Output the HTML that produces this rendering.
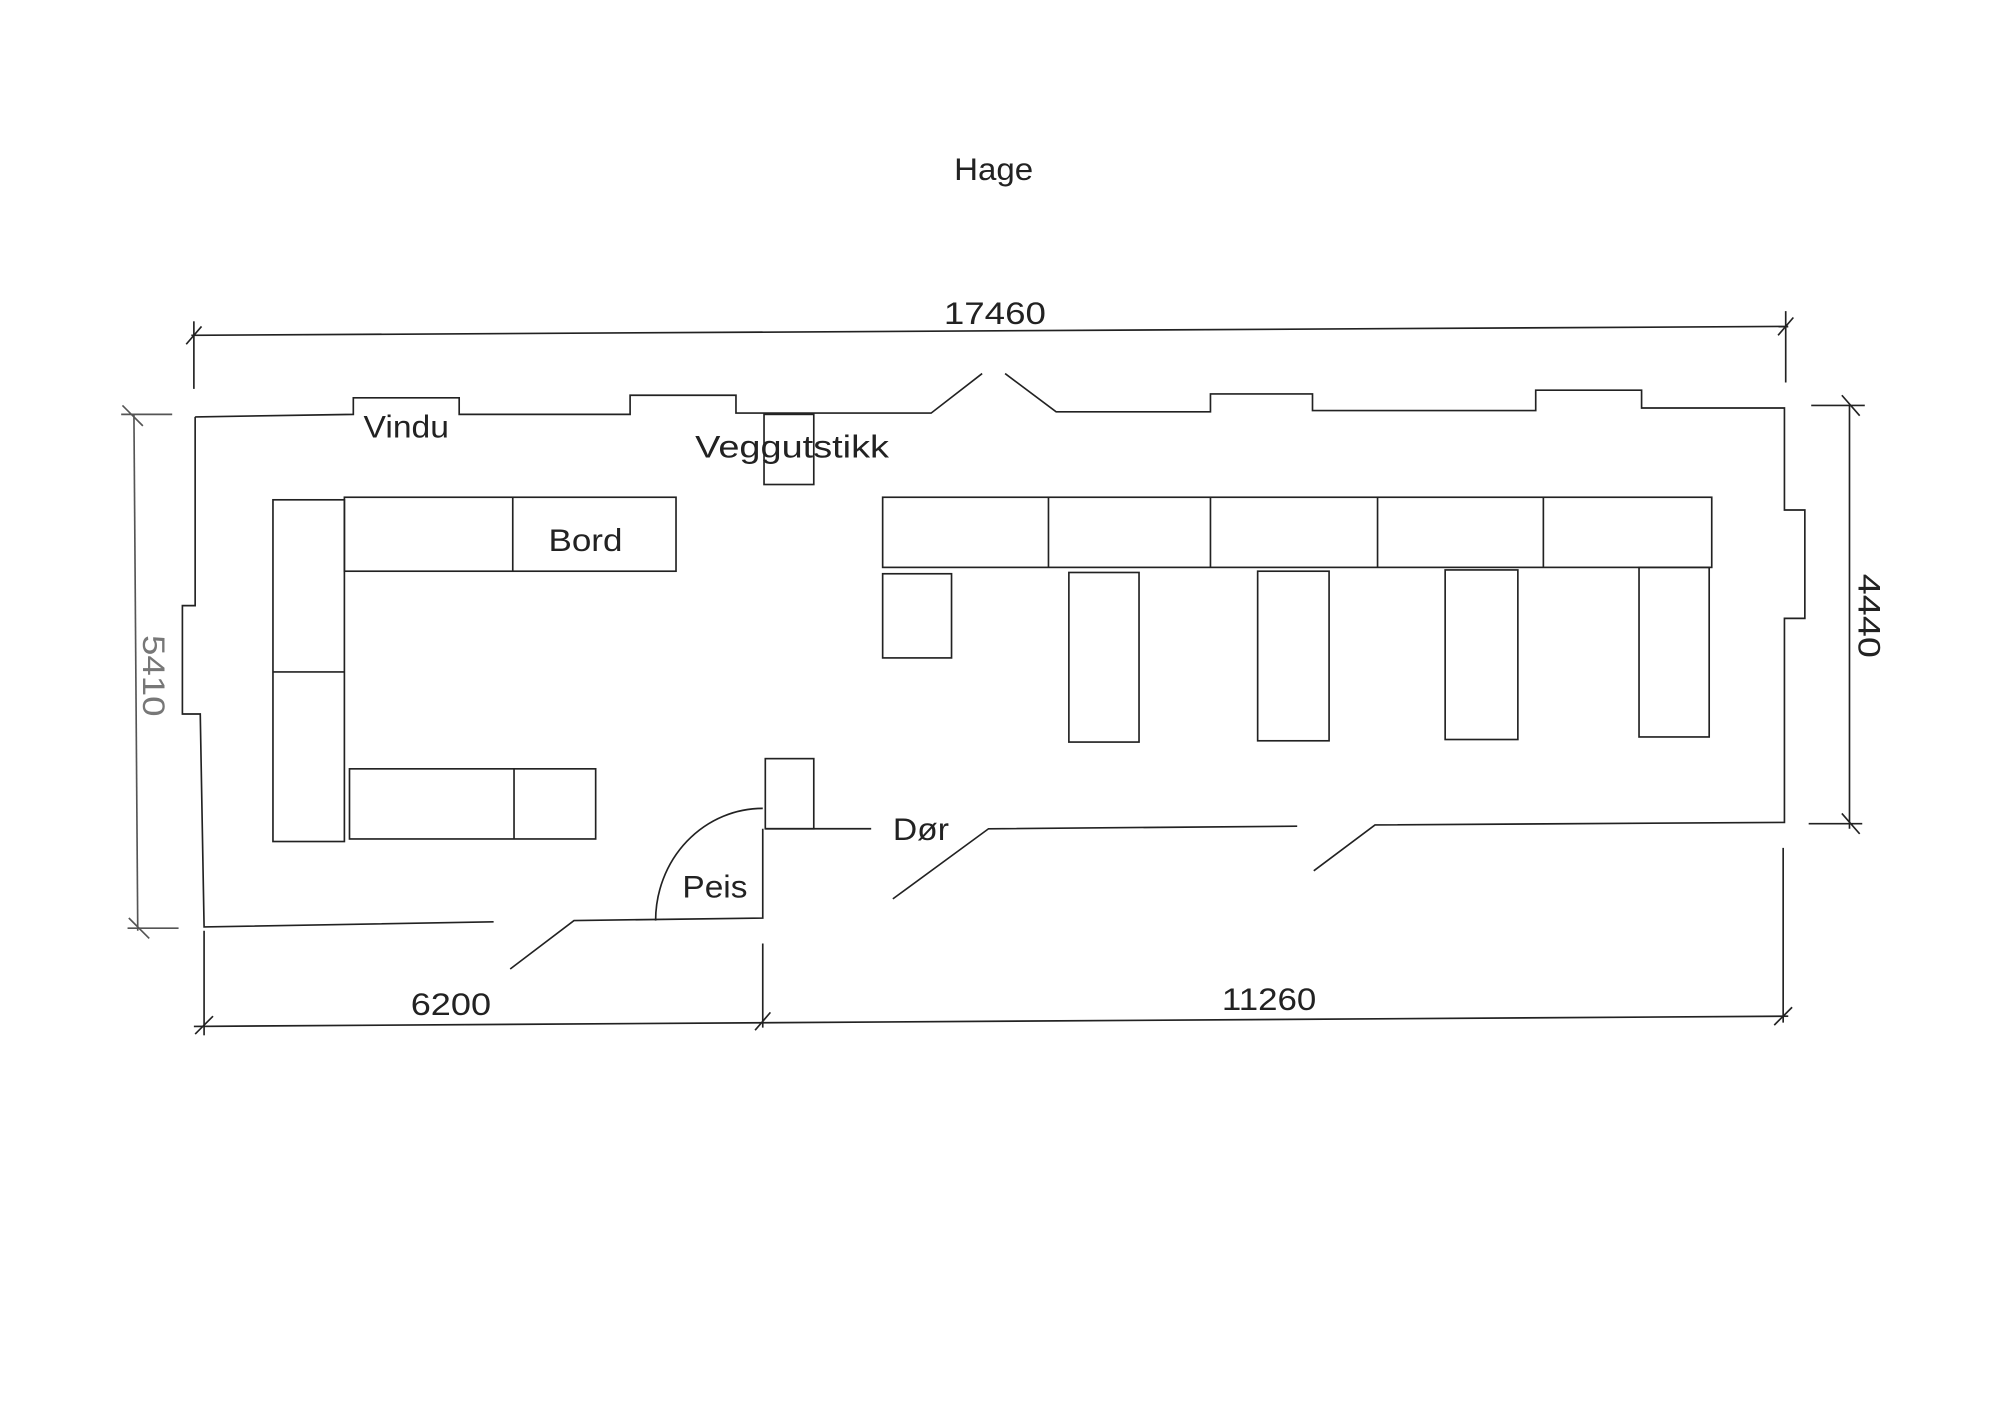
<!DOCTYPE html>
<html><head><meta charset="utf-8"><style>
html,body{margin:0;padding:0;background:#fff;}
svg{display:block}
text{font-family:"Liberation Sans",sans-serif;font-size:25px;fill:#222;}
</style></head><body>
<svg width="2000" height="1414" viewBox="0 0 1568 1109" preserveAspectRatio="none" xmlns="http://www.w3.org/2000/svg">
<g fill="none" stroke="#222" stroke-width="1.3">
<line x1="150" y1="263" x2="1402" y2="256"/>
<line x1="152" y1="252" x2="152" y2="305"/>
<line x1="1400" y1="244" x2="1400" y2="300"/>
<line x1="146" y1="270" x2="158" y2="256"/>
<line x1="1394" y1="263" x2="1406" y2="249"/>
<polyline points="153,327 277,325 277,312 360,312 360,325 494,325 494,310 577,310 577,324 730,324 770,293"/>
<polyline points="788,293 828,323 949,323 949,309 1029,309 1029,322 1204,322 1204,306 1287,306 1287,320 1399,320 1399,400 1415,400 1415,485 1399,485 1399,645 1078,647 1030,683"/>
<polyline points="1017,648 775,650 700,705"/>
<line x1="600" y1="650" x2="683" y2="650"/>
<rect x="600" y="595" width="38" height="55"/>
<polyline points="598,650 598,720 450,722 400,760"/>
<path d="M514,722 A84,88 0 0 1 598,634"/>
<polyline points="387,723 160,727 157,560 143,560 143,475 153,475 153,327"/>
<line x1="105" y1="325" x2="108" y2="730" stroke="#555"/>
<line x1="95" y1="325" x2="135" y2="325" stroke="#555"/>
<line x1="100" y1="728" x2="140" y2="728" stroke="#555"/>
<line x1="96" y1="318" x2="112" y2="334" stroke="#555"/>
<line x1="101" y1="720" x2="117" y2="736" stroke="#555"/>
<line x1="1450" y1="318" x2="1450" y2="650"/>
<line x1="1420" y1="318" x2="1462" y2="318"/>
<line x1="1418" y1="646" x2="1460" y2="646"/>
<line x1="1444" y1="310" x2="1458" y2="326"/>
<line x1="1444" y1="638" x2="1458" y2="654"/>
<line x1="152" y1="805" x2="1402" y2="797"/>
<line x1="160" y1="730" x2="160" y2="812"/>
<line x1="598" y1="740" x2="598" y2="806"/>
<line x1="1398" y1="665" x2="1398" y2="802"/>
<line x1="153" y1="811" x2="167" y2="797"/>
<line x1="592" y1="808" x2="604" y2="794"/>
<line x1="1391" y1="804" x2="1405" y2="790"/>
<rect x="599" y="325" width="39" height="55"/>
<rect x="214" y="392" width="56" height="268"/>
<line x1="214" y1="527" x2="270" y2="527"/>
<rect x="270" y="390" width="260" height="58"/>
<line x1="402" y1="390" x2="402" y2="448"/>
<rect x="274" y="603" width="193" height="55"/>
<line x1="403" y1="603" x2="403" y2="658"/>
<rect x="692" y="390" width="650" height="55"/>
<line x1="822" y1="390" x2="822" y2="445"/>
<line x1="949" y1="390" x2="949" y2="445"/>
<line x1="1080" y1="390" x2="1080" y2="445"/>
<line x1="1210" y1="390" x2="1210" y2="445"/>
<rect x="692" y="450" width="54" height="66"/>
<rect x="838" y="449" width="55" height="133"/>
<rect x="986" y="448" width="56" height="133"/>
<rect x="1133" y="447" width="57" height="133"/>
<rect x="1285" y="445" width="55" height="133"/>
</g>
<text x="748" y="141" textLength="62" lengthAdjust="spacingAndGlyphs">Hage</text>
<text x="740" y="254" textLength="80" lengthAdjust="spacingAndGlyphs">17460</text>
<text x="285" y="343" textLength="67" lengthAdjust="spacingAndGlyphs">Vindu</text>
<text x="545" y="359" textLength="152" lengthAdjust="spacingAndGlyphs">Veggutstikk</text>
<text x="430" y="432" textLength="58" lengthAdjust="spacingAndGlyphs">Bord</text>
<text x="535" y="704" textLength="51" lengthAdjust="spacingAndGlyphs">Peis</text>
<text x="700" y="659" textLength="44" lengthAdjust="spacingAndGlyphs">Dør</text>
<text x="322" y="796" textLength="63" lengthAdjust="spacingAndGlyphs">6200</text>
<text x="958" y="792" textLength="74" lengthAdjust="spacingAndGlyphs">11260</text>
<text transform="translate(112,498) rotate(90)" style="fill:#777" textLength="64" lengthAdjust="spacingAndGlyphs">5410</text>
<text transform="translate(1457,450) rotate(90)" textLength="66" lengthAdjust="spacingAndGlyphs">4440</text>
</svg>
</body></html>
